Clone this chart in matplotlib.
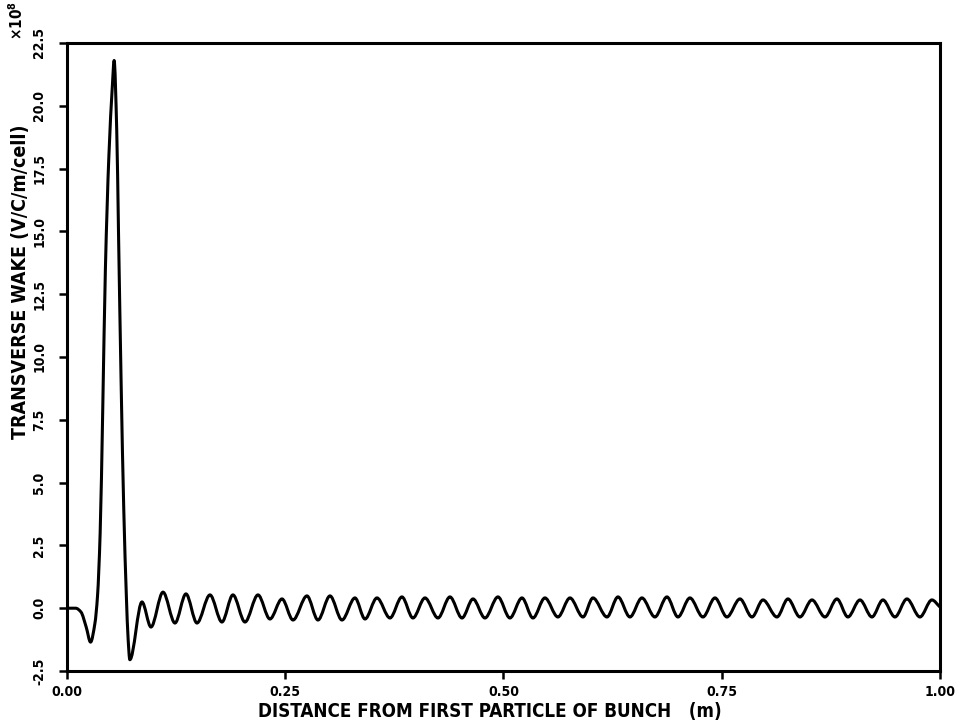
import numpy as np
import matplotlib
matplotlib.use("Agg")
import matplotlib.pyplot as plt
from matplotlib.path import Path
from matplotlib.patches import PathPatch

plt.rcParams['font.family'] = ['DejaVu Sans']
plt.rcParams['font.weight'] = 'bold'
plt.rcParams['font.stretch'] = 'condensed'

# pulse at the head of the bunch (m, units of 1e8)
pulse_x = [0.000, 0.010, 0.016, 0.022, 0.027, 0.032, 0.035, 0.038, 0.041, 0.044,
           0.048, 0.052, 0.054, 0.057, 0.059, 0.062, 0.065, 0.068, 0.070, 0.072]
pulse_y = [0.00, 0.00, -0.15, -0.75, -1.35, -0.60, 0.50, 3.00, 8.00, 13.50,
           18.00, 20.80, 21.80, 19.00, 15.00, 9.00, 4.00, 0.50, -1.20, -2.05]

# oscillating tail: maxima and minima
peak_x = [0.0859, 0.1100, 0.1363, 0.1638, 0.1901, 0.2188, 0.2463, 0.2749, 0.3013, 0.3299,
          0.3551, 0.3837, 0.4101, 0.4387, 0.4651, 0.4937, 0.5212, 0.5475, 0.5762, 0.6025,
          0.6312, 0.6586, 0.6873, 0.7136, 0.7423, 0.7709, 0.7973, 0.8259, 0.8534, 0.8820,
          0.9084, 0.9347, 0.9622, 0.9908]
peak_y = [0.25, 0.64, 0.57, 0.53, 0.53, 0.53, 0.37, 0.49, 0.49, 0.41,
          0.41, 0.45, 0.41, 0.45, 0.37, 0.45, 0.41, 0.41, 0.41, 0.41,
          0.45, 0.41, 0.45, 0.41, 0.41, 0.37, 0.33, 0.37, 0.33, 0.37,
          0.33, 0.33, 0.37, 0.33]
trough_x = [0.0962, 0.1237, 0.1489, 0.1775, 0.2039, 0.2325, 0.2589, 0.2875, 0.3150, 0.3414,
            0.3700, 0.3963, 0.4250, 0.4525, 0.4788, 0.5074, 0.5338, 0.5624, 0.5911, 0.6186,
            0.6449, 0.6735, 0.6999, 0.7285, 0.7560, 0.7847, 0.8133, 0.8396, 0.8683, 0.8946,
            0.9221, 0.9485, 0.9771]
trough_y = [-0.75, -0.59, -0.59, -0.55, -0.55, -0.43, -0.47, -0.47, -0.47, -0.43,
            -0.39, -0.39, -0.39, -0.39, -0.39, -0.39, -0.39, -0.35, -0.35, -0.35,
            -0.35, -0.35, -0.35, -0.35, -0.35, -0.35, -0.35, -0.35, -0.35, -0.35,
            -0.35, -0.35, -0.35]
end_x = [1.000]
end_y = [0.05]

xticks = [0.0, 0.25, 0.5, 0.75, 1.0]
xtick_labels = ['0.00', '0.25', '0.50', '0.75', '1.00']
yticks = [-2.5, 0.0, 2.5, 5.0, 7.5, 10.0, 12.5, 15.0, 17.5, 20.0, 22.5]
ytick_labels = ['-2.5', '0.0', '2.5', '5.0', '7.5', '10.0', '12.5', '15.0', '17.5', '20.0', '22.5']

x = np.array(pulse_x + peak_x + trough_x + end_x)
y = np.array(pulse_y + peak_y + trough_y + end_y)
order = np.argsort(x)
x = x[order]
y = y[order]

# smooth pen stroke through the read points (monotone cubic segments)
d = np.diff(y) / np.diff(x)
m = np.zeros_like(y)
for i in range(1, len(y) - 1):
    if d[i - 1] * d[i] > 0:
        m[i] = 2.0 / (1.0 / d[i - 1] + 1.0 / d[i])
m[0] = d[0]
m[-1] = d[-1]
verts = [(x[0], y[0])]
codes = [Path.MOVETO]
for i in range(len(x) - 1):
    h = x[i + 1] - x[i]
    verts += [(x[i] + h / 3, y[i] + m[i] * h / 3),
              (x[i + 1] - h / 3, y[i + 1] - m[i + 1] * h / 3),
              (x[i + 1], y[i + 1])]
    codes += [Path.CURVE4] * 3

fig = plt.figure(figsize=(9.68, 7.27), dpi=100)
ax = fig.add_axes([0.0692, 0.077, 0.9018, 0.864])
ax.add_patch(PathPatch(Path(verts, codes), facecolor='none', edgecolor='black',
                       linewidth=2.2, capstyle='round', joinstyle='round'))

ax.set_xlim(0, 1.0)
ax.set_ylim(-2.5, 22.5)
ax.set_xticks(xticks)
ax.set_xticklabels(xtick_labels, fontsize=10, fontweight='bold')
ax.set_yticks(yticks)
ax.set_yticklabels(ytick_labels, fontsize=10, fontweight='bold',
                   rotation=90, va='center')
ax.tick_params(axis='both', direction='out', length=6, width=1.8, color='black')
ax.tick_params(axis='x', pad=4)
ax.tick_params(axis='y', pad=9)
for s in ax.spines.values():
    s.set_linewidth(2.2)

fig.text(0.506, 0.021, 'DISTANCE FROM FIRST PARTICLE OF BUNCH   (m)',
         ha='center', va='center', fontsize=13.5, fontweight='bold')
fig.text(0.021, 0.612, 'TRANSVERSE WAKE (V/C/m/cell)', rotation=90,
         ha='center', va='center', fontsize=14, fontweight='bold')
fig.text(0.017, 0.972, r'$\mathbf{\times10^{8}}$', rotation=90,
         ha='center', va='center', fontsize=11)

fig.savefig('out.png', dpi=100)
